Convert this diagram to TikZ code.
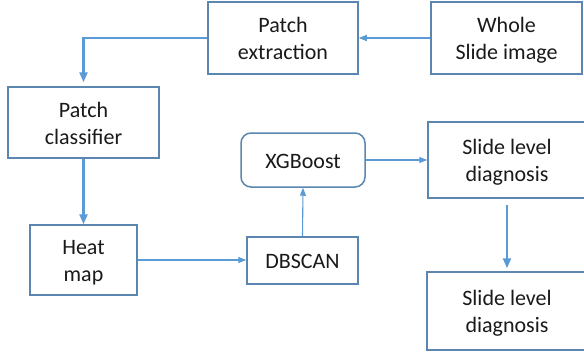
\documentclass[tikz,border=0pt]{standalone}
\usepackage{fontspec}
\setmainfont{Carlito}
\usetikzlibrary{arrows.meta}
\definecolor{boxline}{HTML}{5A86AF}
\definecolor{flow}{HTML}{5B9BD5}
\definecolor{ink}{HTML}{1A1A1A}
% struts on the first and last line, so every label sits at the same height
\newcommand\topst{\rule{0pt}{20pt}}
\newcommand\botst{\rule[-3.5pt]{0pt}{3.5pt}}
\begin{document}
\begin{tikzpicture}[x=1pt,y=-1pt,
  stage/.style={draw=boxline, line width=1.5pt, fill=white, text=ink,
    align=center, inner sep=0pt, font=\fontsize{22}{26.7}\selectfont},
  thickflow/.style={draw=flow, line width=2.3pt, -{Triangle[length=10pt,width=8pt]}},
  thinflow/.style={draw=flow, line width=1.1pt, -{Triangle[length=8pt,width=6pt]}}]
\clip (0,0) rectangle (584,356);
\fill[white] (0,0) rectangle (584,356);

% process boxes
\node[stage, minimum width=150pt, minimum height=72pt] (pe) at (283,38) {\topst Patch\\extraction\botst};
\node[stage, minimum width=151pt, minimum height=72pt] (ws) at (506.5,38) {\topst Whole\\Slide image\botst};
\node[stage, minimum width=151pt, minimum height=71pt] (pc) at (83.5,122.5) {\topst Patch\\classifier\botst};
\node[stage, minimum width=107pt, minimum height=70pt] (hm) at (83.5,260) {\topst Heat\\map\botst};
\node[stage, minimum width=111pt, minimum height=47pt] (db) at (302.5,260.5) {\topst DBSCAN\botst};
\node[stage, rounded corners=10pt, minimum width=124pt, minimum height=54pt] (xg) at (303,160) {\topst XGBoost\botst};
\node[stage, minimum width=158pt, minimum height=76pt] (s1) at (507,160) {\topst Slide level\\diagnosis\botst};
\node[stage, minimum width=160pt, minimum height=78pt] (s2) at (507,311) {\topst Slide level\\diagnosis\botst};

% flow between stages
\draw[thinflow] (ws.west) -- (pe.east);
\draw[thickflow, shorten >=4pt] (pe.west) -| (pc.north);
\draw[thickflow] (pc.south) -- (hm.north);
\draw[thinflow] (hm.east) -- (hm.east -| db.west);
\draw[thinflow] (db.north) -- (xg.south);
\draw[thinflow] (xg.east) -- (s1.west);
\draw[thickflow, shorten <=6pt, shorten >=3pt] (s1.south) -- (s2.north);
\end{tikzpicture}
\end{document}
